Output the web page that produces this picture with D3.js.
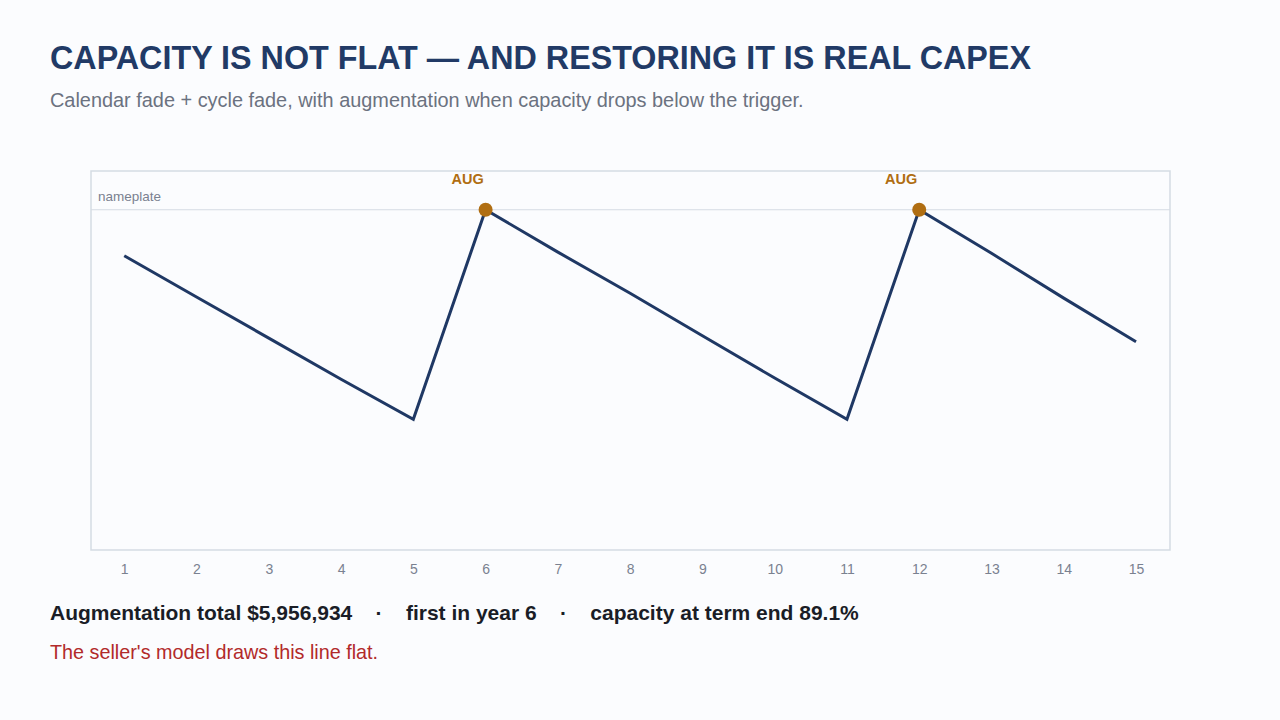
<!DOCTYPE html>
<html lang="en">
<head>
<meta charset="UTF-8" />
<script src="https://d3js.org/d3.v7.min.js"></script>
<title>Capacity</title>
<style>
  body { margin: 0; background: #fbfcfe; font-family: "Liberation Sans", Arial, sans-serif; }
</style>
</head>
<body>
<svg id="chart" width="1280" height="720"></svg>
<script>
    const years = [1, 2, 3, 4, 5, 6, 7, 8, 9, 10, 11, 12, 13, 14, 15];
    const capacity = [96.2, 92.8, 89.4, 86.0, 82.7, 100, 96.5, 93.1, 89.6, 86.1, 82.7, 100, 96.4, 92.7, 89.1];
    const augYears = [6, 12];
    const nameplate = 100;

    const svg = d3.select('#chart');
    const navy = '#1f3864';
    const gold = '#b06e12';

    svg.append('text').attr('x', 50).attr('y', 69)
        .attr('font-size', 32.3).attr('font-weight', 'bold').attr('fill', '#213a66')
        .text('CAPACITY IS NOT FLAT \u2014 AND RESTORING IT IS REAL CAPEX');
    svg.append('text').attr('x', 50).attr('y', 107)
        .attr('font-size', 19.9).attr('fill', '#6b7280')
        .text('Calendar fade + cycle fade, with augmentation when capacity drops below the trigger.');

    const frame = { left: 91, right: 1170, top: 171, bottom: 550 };
    const x = d3.scaleLinear().domain([0.54, 15.47]).range([frame.left, frame.right]);
    const y = d3.scaleLinear().domain([71.9, 103.2]).range([frame.bottom, frame.top]);

    svg.append('rect').attr('x', frame.left).attr('y', frame.top)
        .attr('width', frame.right - frame.left).attr('height', frame.bottom - frame.top)
        .attr('fill', 'none').attr('stroke', '#d5dbe3').attr('stroke-width', 1.5);

    svg.append('line').attr('x1', frame.left).attr('x2', frame.right)
        .attr('y1', y(nameplate)).attr('y2', y(nameplate))
        .attr('stroke', '#d5dbe3').attr('stroke-width', 1.2);
    svg.append('text').attr('x', 98).attr('y', y(nameplate) - 9)
        .attr('font-size', 13.5).attr('fill', '#7a8190').text('nameplate');

    const xAxis = d3.axisBottom(x).tickValues(years).tickSize(0).tickPadding(14);
    const xAxisG = svg.append('g').attr('transform', `translate(0,${frame.bottom})`).call(xAxis);
    xAxisG.select('.domain').remove();
    xAxisG.selectAll('text').attr('font-size', 14).attr('fill', '#7a8190')
        .attr('font-family', '"Liberation Sans", Arial, sans-serif');

    const data = years.map((yr, i) => ({ yr, v: capacity[i] }));
    svg.append('path').datum(data)
        .attr('d', d3.line().x(d => x(d.yr)).y(d => y(d.v)))
        .attr('fill', 'none').attr('stroke', navy).attr('stroke-width', 3);

    const augs = data.filter(d => augYears.includes(d.yr));
    svg.selectAll('circle.aug').data(augs).enter().append('circle')
        .attr('cx', d => x(d.yr)).attr('cy', d => y(d.v)).attr('r', 7).attr('fill', gold);
    svg.selectAll('text.aug').data(augs).enter().append('text')
        .attr('x', d => x(d.yr) - 18).attr('y', 184).attr('text-anchor', 'middle')
        .attr('font-size', 14.5).attr('font-weight', 'bold').attr('fill', gold).text('AUG');

    svg.append('text').attr('x', 50).attr('y', 620)
        .attr('font-size', 21).attr('font-weight', 'bold').attr('fill', '#1a1d26')
        .attr('xml:space', 'preserve')
        .text('Augmentation total $5,956,934    \u00b7    first in year 6    \u00b7    capacity at term end 89.1%');
    svg.append('text').attr('x', 50).attr('y', 659)
        .attr('font-size', 19.8).attr('fill', '#b22a2a')
        .text("The seller's model draws this line flat.");
</script>
</body>
</html>
